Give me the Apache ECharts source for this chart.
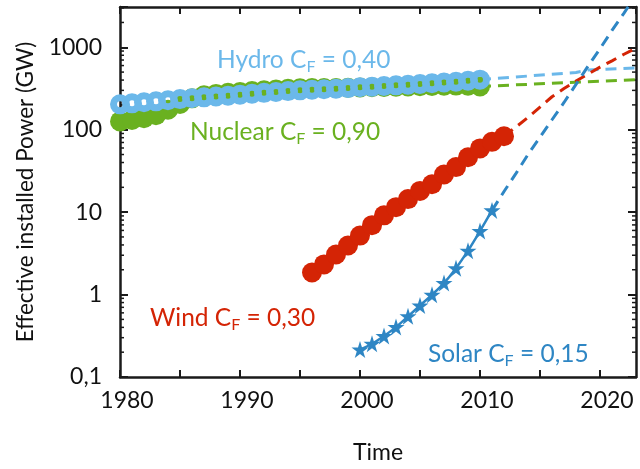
<!DOCTYPE html>
<html>
<head>
<meta charset="utf-8">
<script src="https://cdn.jsdelivr.net/npm/echarts@6/dist/echarts.min.js"></script>
<style>html,body{margin:0;padding:0;background:#fff}#c{width:640px;height:469px}</style>
</head>
<body>
<div id="c"></div>
<script>
// ---- data ----
const hydroYears = [1980,1981,1982,1983,1984,1985,1986,1987,1988,1989,1990,1991,1992,1993,1994,1995,1996,1997,1998,1999,2000,2001,2002,2003,2004,2005,2006,2007,2008,2009,2010];
const hydroGW   = [203,209,215,221,228,235,241,247,253,259,266,273,280,287,294,300,305,310,315,320,327,333,339,345,351,358,366,374,382,392,405];
const nuclearYears = hydroYears;
const nuclearGW = [126,131,138,150,175,205,240,262,272,280,287,295,300,307,313,318,320,320,320,322,325,327,330,332,335,337,340,342,343,342,335];
const windYears = [1996,1997,1998,1999,2000,2001,2002,2003,2004,2005,2006,2007,2008,2009,2010,2011,2012];
const windGW    = [1.85,2.32,3.06,3.94,5.19,6.95,9.14,11.5,14.4,18.1,21.8,28.6,35.2,46.3,59.3,71.3,83.2];
const solarYears = [2000,2001,2002,2003,2004,2005,2006,2007,2008,2009,2010,2011];
const solarGW    = [0.215,0.253,0.315,0.403,0.544,0.736,0.995,1.38,2.09,3.41,5.90,10.5];
// projections (dashed)
const hydroProjYears = [2010,2018,2019,2023];
const hydroProjGW    = [405,495,530,560];
const nuclearProjYears = [2010,2023];
const nuclearProjGW    = [335,405];
const windProjYears = [2012,2013,2014,2015,2016,2017,2018,2019,2020,2021,2022,2023];
const windProjGW    = [83.2,108,141,188,251,316,389,473,575,684,822,977];
const solarProjYears = [2011,2012,2013,2014,2015,2016,2017,2018,2019,2020,2021,2022,2023];
const solarProjGW    = [10.5,17.8,29.5,50,81,132,214,355,589,960,1600,2600,4300];
// axis ticks
const xTickYears = [1980,1990,2000,2010,2020];
const yTickLabels = ['0,1','1','10','100','1000'];

const C_HYDRO = '#6bb8ea', C_NUC = '#6ab120', C_WIND = '#d42405', C_SOLAR = '#2e86c4';
const pairs = (xs, ys) => xs.map((x, i) => [x, ys[i]]);
const STAR = 'path://M50,0 L61.2,34.5 L97.6,34.5 L68.2,55.9 L79.4,90.5 L50,69.1 L20.6,90.5 L31.8,55.9 L2.4,34.5 L38.8,34.5 Z';
const FONT = 'Lato';

// minor log ticks (axis decoration)
const minorVals = [];
for (let e = -1; e <= 3; e++) for (let k = 2; k <= 9; k++) { const v = k * Math.pow(10, e); if (v < 3080) minorVals.push(v); }

const chart = echarts.init(document.getElementById('c'), null, {renderer: 'canvas'});
const axisLine = {show: true, lineStyle: {color: '#1a1a1a', width: 2.5}};
const dash = (c) => ({color: c, width: 3, type: [11, 7]});

function label(x, y, name, val, color) {
  return {
    type: 'text', x: x, y: y, z: 50,
    style: {
      text: '{m|' + name + ' C}{s|F}{m| = ' + val + '}',
      verticalAlign: 'middle', align: 'left',
      rich: {
        m: {fontFamily: FONT, fontSize: 24.5, lineHeight: 30, fill: color, color: color},
        s: {fontFamily: FONT, fontSize: 16, lineHeight: 12, verticalAlign: 'bottom', fill: color, color: color}
      }
    }
  };
}

chart.setOption({
  animation: false,
  grid: {left: 120, right: 4, top: 7, bottom: 83, containLabel: false},
  xAxis: [{
    type: 'value', min: 1980, max: 2023, interval: 5, position: 'bottom',
    axisLine: axisLine,
    axisTick: {inside: true, length: 7, lineStyle: {color: '#1a1a1a', width: 2}},
    axisLabel: {
      fontFamily: FONT, fontSize: 23, color: '#111', margin: 12, padding: [0, 0, 0, 14],
      showMaxLabel: false,
      formatter: v => xTickYears.indexOf(v) >= 0 ? String(v) : ''
    },
    splitLine: {show: false},
    name: 'Time', nameLocation: 'middle', nameGap: 64,
    nameTextStyle: {fontFamily: FONT, fontSize: 23, color: '#111'}
  }, {
    type: 'value', min: 1980, max: 2023, interval: 5, position: 'top',
    axisLine: axisLine,
    axisTick: {inside: true, length: 7, lineStyle: {color: '#1a1a1a', width: 2}},
    axisLabel: {show: false}, splitLine: {show: false}
  }],
  yAxis: [{
    type: 'log', logBase: 10, min: 0.1, max: 3080, position: 'left',
    axisLine: axisLine,
    axisTick: {inside: true, length: 8, lineStyle: {color: '#1a1a1a', width: 2}},
    axisLabel: {
      fontFamily: FONT, fontSize: 23, color: '#111', margin: 18,
      formatter: v => {
        const l = Math.log10(v), r = Math.round(l);
        if (Math.abs(l - r) > 1e-6 || r < -1 || r > 3) return '';
        return yTickLabels[r + 1];
      }
    },
    splitLine: {show: false},
    name: 'Effective installed Power (GW)', nameLocation: 'middle', nameGap: 80, nameRotate: 90,
    nameTextStyle: {fontFamily: FONT, fontSize: 22.5, color: '#111'}
  }, {
    type: 'log', logBase: 10, min: 0.1, max: 3080, position: 'right',
    axisLine: axisLine,
    axisTick: {inside: true, length: 8, lineStyle: {color: '#1a1a1a', width: 2}},
    axisLabel: {show: false}, splitLine: {show: false}
  }],
  graphic: [
    label(217, 60, 'Hydro', '0,40', C_HYDRO),
    label(190, 132, 'Nuclear', '0,90', C_NUC),
    label(150, 318, 'Wind', '0,30', C_WIND),
    label(428, 354, 'Solar', '0,15', C_SOLAR)
  ],
  series: [
    {type: 'custom', xAxisIndex: 0, yAxisIndex: 0, silent: true, z: 1,
     data: minorVals.map(v => [1980, v]),
     renderItem: (params, api) => {
       const v = api.value(1);
       const pL = api.coord([1980, v]), pR = api.coord([2023, v]);
       const st = {stroke: '#1a1a1a', lineWidth: 1.5};
       return {type: 'group', children: [
         {type: 'line', shape: {x1: pL[0], y1: pL[1], x2: pL[0] + 4, y2: pL[1]}, style: st},
         {type: 'line', shape: {x1: pR[0], y1: pR[1], x2: pR[0] - 4, y2: pR[1]}, style: st}
       ]};
     }},
    {type: 'line', data: pairs(nuclearProjYears, nuclearProjGW), showSymbol: false, lineStyle: dash(C_NUC), z: 2},
    {type: 'line', data: pairs(hydroProjYears, hydroProjGW), showSymbol: false, lineStyle: dash(C_HYDRO), z: 2},
    {type: 'line', data: pairs(windProjYears, windProjGW), showSymbol: false, lineStyle: dash(C_WIND), z: 2},
    {type: 'line', data: pairs(solarProjYears, solarProjGW), showSymbol: false, lineStyle: dash(C_SOLAR), z: 2},
    {type: 'line', data: pairs(nuclearYears, nuclearGW), symbol: 'circle', symbolSize: 20,
     itemStyle: {color: C_NUC}, lineStyle: {width: 0}, z: 3},
    {type: 'line', data: pairs(hydroYears, hydroGW), symbol: 'circle', symbolSize: 13,
     itemStyle: {color: 'rgba(0,0,0,0)', borderColor: C_HYDRO, borderWidth: 7}, lineStyle: {width: 0}, z: 4},
    {type: 'line', data: pairs(windYears, windGW), symbol: 'circle', symbolSize: 20,
     itemStyle: {color: C_WIND}, lineStyle: {width: 0}, z: 3},
    {type: 'line', data: pairs(solarYears, solarGW), symbol: STAR, symbolSize: 17, smooth: 0.3,
     itemStyle: {color: C_SOLAR}, lineStyle: {color: C_SOLAR, width: 2.5}, z: 3}
  ]
});
</script>
</body>
</html>
